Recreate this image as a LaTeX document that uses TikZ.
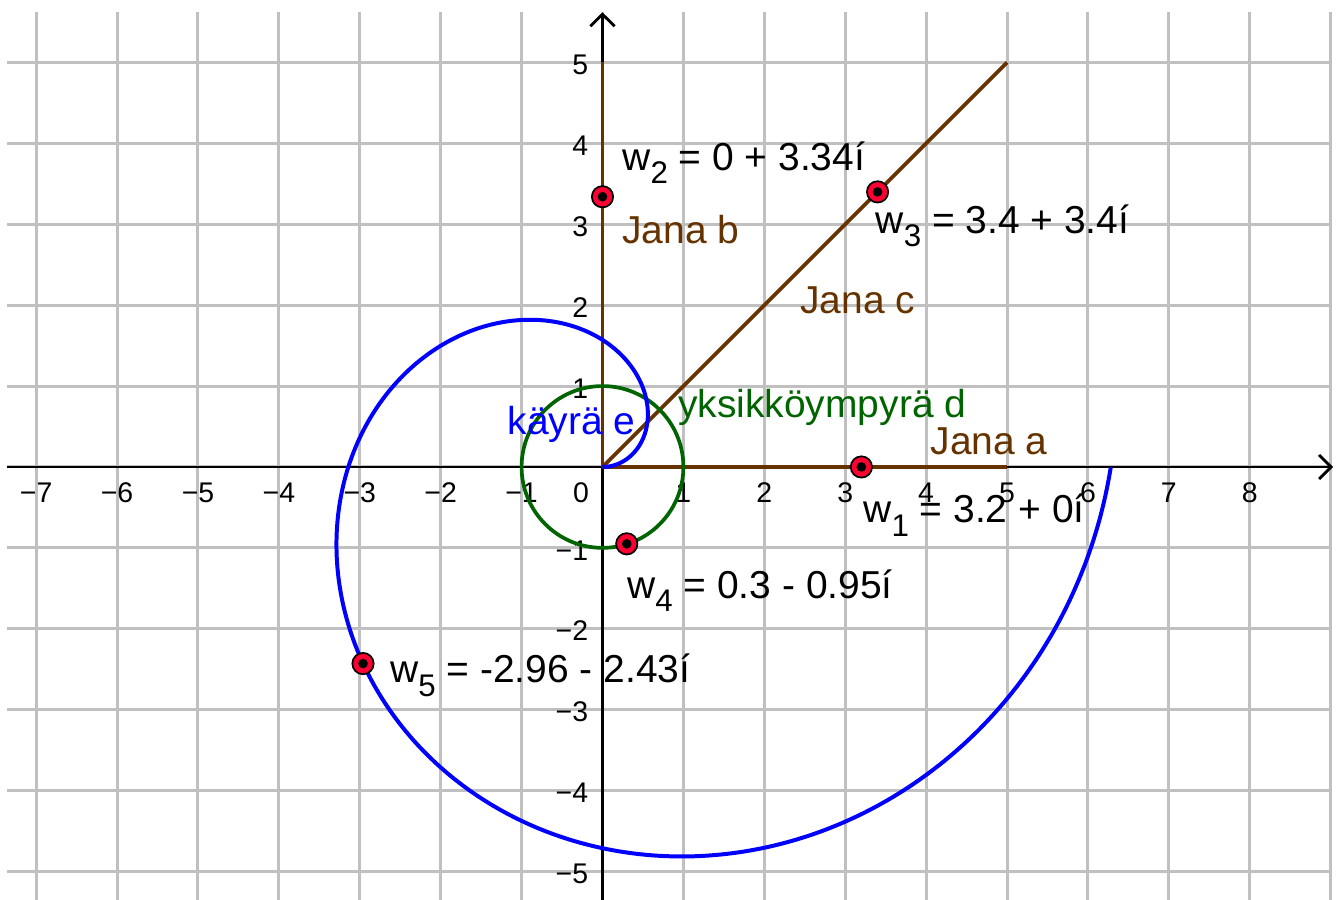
\documentclass[tikz,border=0pt]{standalone}
\usepackage{fontspec}
\setmainfont{Liberation Sans}
\usetikzlibrary{arrows.meta}
\definecolor{gridgray}{RGB}{192,192,192}
\definecolor{janabrown}{RGB}{102,51,0}
\definecolor{circgreen}{RGB}{0,100,0}
\definecolor{ptred}{RGB}{255,0,51}
\newcommand{\wsub}[1]{\raisebox{-0.35em}{\fontsize{11}{12}\selectfont #1}}
\begin{document}
\begin{tikzpicture}[x=1cm,y=1cm,
 gridline/.style={gridgray, line width=1.05pt},
 axisline/.style={black, line width=1pt, -{Straight Barb[length=4.2pt,width=8.5pt,line width=1pt]}},
 jana/.style={janabrown, line width=1.3pt},
 lbl/.style={font=\fontsize{13.7}{16}\selectfont, inner sep=0pt, anchor=base west},
 ticklbl/.style={font=\fontsize{10}{11}\selectfont, inner sep=0pt},
 pt/.style={circle, draw=black, fill=ptred, line width=0.6pt, minimum size=7.5pt, inner sep=0pt,
   path picture={\fill[black] (path picture bounding box.center) circle (1.7pt);}}
]
\useasboundingbox (-7.447,-5.341) rectangle (9.153,5.772);
% grid
\foreach \x in {-7,...,9} \draw[gridline] (\x,-5.4) -- (\x,5.62);
\foreach \y in {-5,...,5} \draw[gridline] (-7.36,\y) -- (9.02,\y);
% axes
\coordinate (xs) at (-7.36,0); \coordinate (xe) at (9.03,0);
\coordinate (ys) at (0,-5.4); \coordinate (ye) at (0,5.62);
\draw[axisline] (xs) -- (xe);
\draw[axisline] (ys) -- (ye);
% tick labels
\foreach \n in {1,...,7} \node[ticklbl, anchor=base] (xm\n) at (-\n,-0.44) {−\n};
\foreach \n in {1,...,8} \node[ticklbl, anchor=base] (xp\n) at (\n,-0.44) {\n};
\node[ticklbl, anchor=base] (x0) at (-0.265,-0.44) {0};
\foreach \n in {1,...,5} \node[ticklbl, anchor=base east] (yp\n) at (-0.17,\n-0.15) {\n};
\foreach \n in {1,...,5} \node[ticklbl, anchor=base east] (ym\n) at (-0.17,-\n-0.15) {−\n};
% segments
\coordinate (O) at (0,0);
\coordinate (A) at (5,0); \coordinate (B) at (0,5); \coordinate (C) at (5,5);
\draw[jana] (O) -- (A);
\draw[jana] (O) -- (B);
\draw[jana] (O) -- (C);
% unit circle
\draw[circgreen, line width=1.3pt] (O) circle (1);
% spiral
\draw[blue, line width=1.4pt] plot[domain=0:6.2832, samples=300, smooth, variable=\t] ({\t*cos(\t r)},{\t*sin(\t r)});
% labels
\node[lbl, text=janabrown] (lb) at (0.24,2.76) {Jana b};
\node[lbl, text=janabrown] (lc) at (2.44,1.90) {Jana c};
\node[lbl, text=janabrown] (la) at (4.05,0.148) {Jana a};
\node[lbl, text=circgreen] (ld) at (0.93,0.61) {yksikköympyrä d};
\node[lbl, text=blue] (le) at (-1.18,0.40) {käyrä e};
\node[lbl] (l1) at (3.22,-0.69) {w\wsub{1} = 3.2 + 0í};
\node[lbl] (l2) at (0.24,3.67) {w\wsub{2} = 0 + 3.34í};
\node[lbl] (l3) at (3.37,2.89) {w\wsub{3} = 3.4 + 3.4í};
\node[lbl] (l4) at (0.30,-1.62) {w\wsub{4} = 0.3 - 0.95í};
\node[lbl] (l5) at (-2.63,-2.67) {w\wsub{5} = -2.96 - 2.43í};
% points
\node[pt] (w1) at (3.2,0) {};
\node[pt] (w2) at (0,3.34) {};
\node[pt] (w3) at (3.4,3.4) {};
\node[pt] (w4) at (0.3,-0.95) {};
\node[pt] (w5) at (-2.96,-2.43) {};
\end{tikzpicture}
\end{document}
